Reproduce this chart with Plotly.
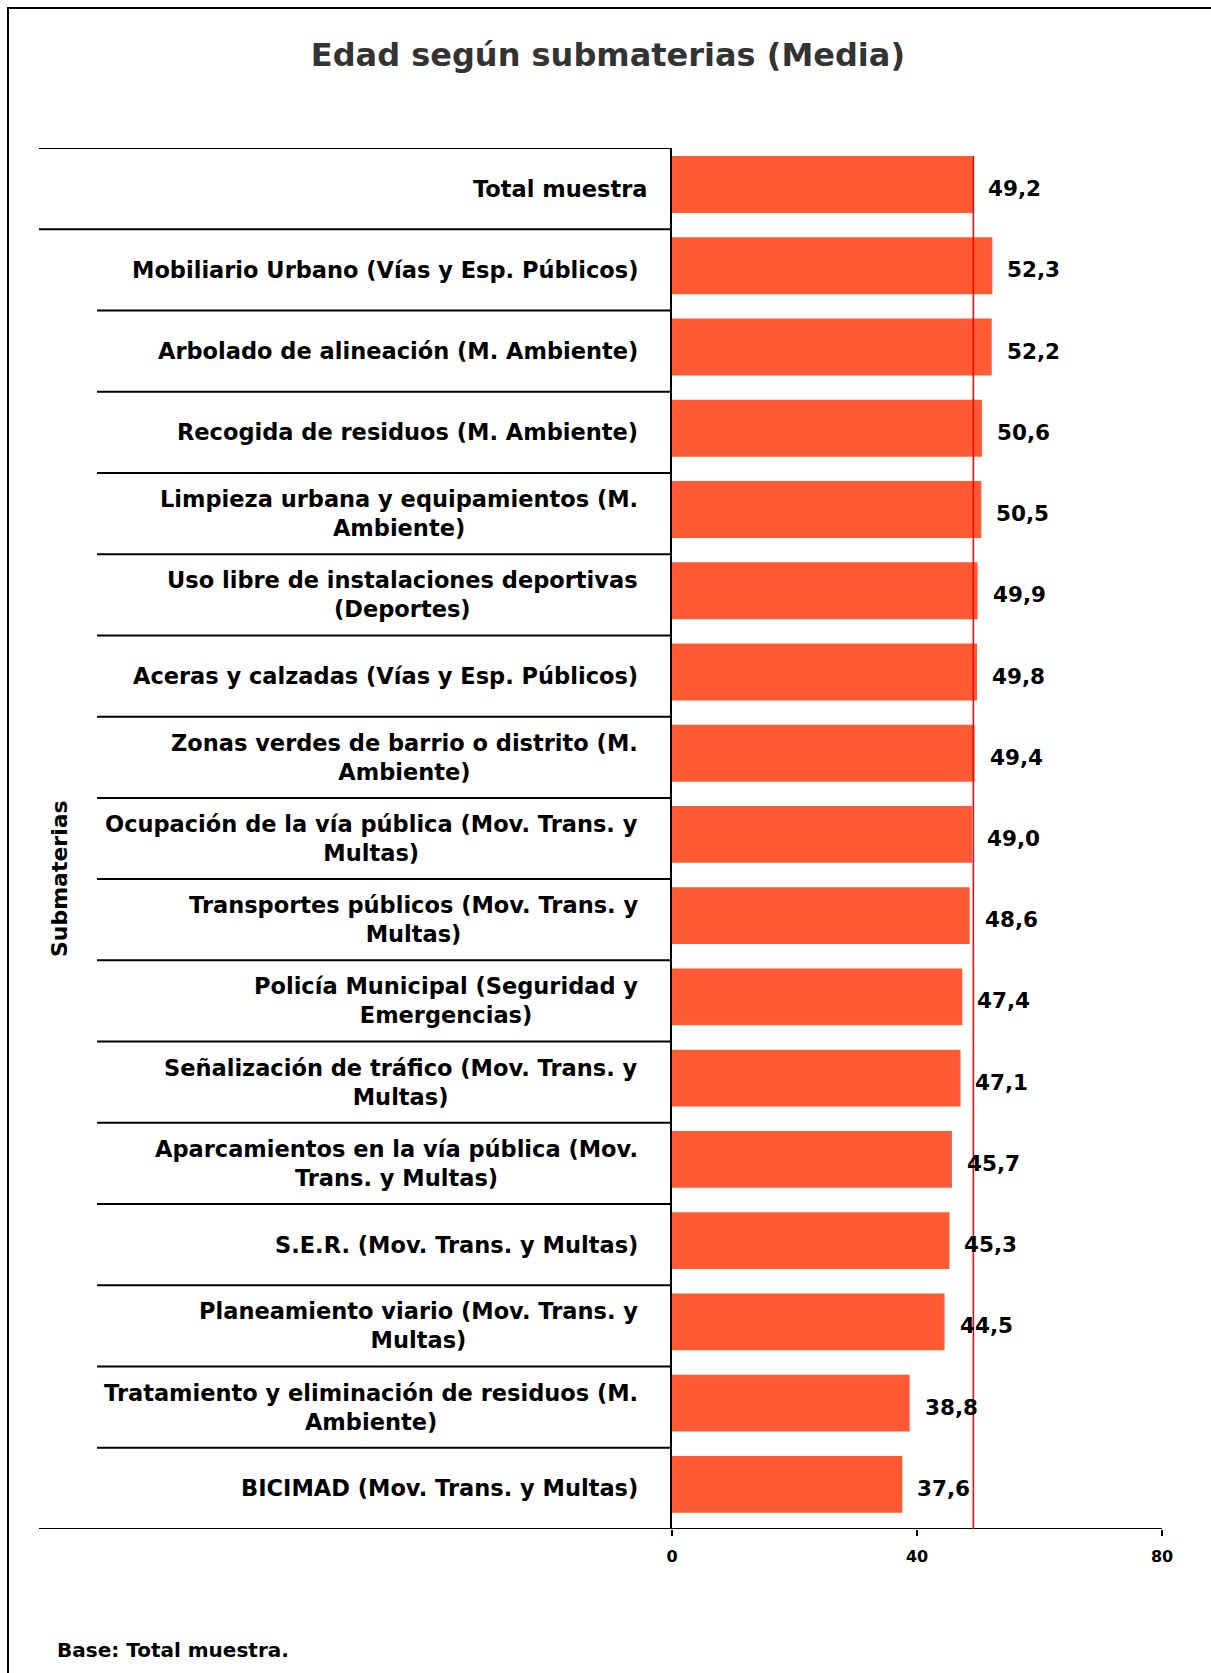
import plotly.graph_objects as go

# Mean age per sub-topic
categories = [
    "Total muestra",
    "Mobiliario Urbano (Vías y Esp. Públicos)",
    "Arbolado de alineación (M. Ambiente)",
    "Recogida de residuos (M. Ambiente)",
    "Limpieza urbana y equipamientos (M.<br>Ambiente)",
    "Uso libre de instalaciones deportivas<br>(Deportes)",
    "Aceras y calzadas (Vías y Esp. Públicos)",
    "Zonas verdes de barrio o distrito (M.<br>Ambiente)",
    "Ocupación de la vía pública (Mov. Trans. y<br>Multas)",
    "Transportes públicos (Mov. Trans. y<br>Multas)",
    "Policía Municipal (Seguridad y<br>Emergencias)",
    "Señalización de tráfico (Mov. Trans. y<br>Multas)",
    "Aparcamientos en la vía pública (Mov.<br>Trans. y Multas)",
    "S.E.R. (Mov. Trans. y Multas)",
    "Planeamiento viario (Mov. Trans. y<br>Multas)",
    "Tratamiento y eliminación de residuos (M.<br>Ambiente)",
    "BICIMAD (Mov. Trans. y Multas)",
]
values = [49.2, 52.3, 52.2, 50.6, 50.5, 49.9, 49.8, 49.4, 49.0, 48.6,
          47.4, 47.1, 45.7, 45.3, 44.5, 38.8, 37.6]
x_ticks = [0, 40, 80]
group_label = "Submaterias"

FONT = "DejaVu Sans"
BAR_COLOR = "#FF5A33"

W, H = 1211, 1673
L, R = 672, 1162      # plot area, px
T, B = 148, 1529


def px_x(p):
    return (p - L) / (R - L)


def px_y(p):
    return (B - p) / (B - T)


fig = go.Figure()
fig.add_trace(go.Bar(
    x=values, y=categories, orientation="h",
    marker=dict(color=BAR_COLOR, line=dict(width=0)),
    width=0.7, offset=-0.4, hoverinfo="skip",
))

n = len(categories)
shapes = []
annotations = []

# Category label boxes
shapes.append(dict(type="line", xref="paper", yref="y", x0=px_x(39), x1=0,
                   y0=-0.5, y1=-0.5, line=dict(color="black", width=2)))
for i in range(n - 1):
    x0 = px_x(39) if i == 0 else px_x(97)
    shapes.append(dict(type="line", xref="paper", yref="y", x0=x0, x1=0,
                       y0=i + 0.5, y1=i + 0.5, line=dict(color="black", width=2)))
# Bottom baseline across labels and plot
shapes.append(dict(type="line", xref="paper", yref="y", x0=px_x(39), x1=1,
                   y0=n - 0.5, y1=n - 0.5, line=dict(color="black", width=2)))
# Reference line at the overall mean
shapes.append(dict(type="line", xref="x", yref="y", x0=values[0], x1=values[0],
                   y0=-0.4, y1=n - 0.5, line=dict(color="#FF0000", width=1.5),
                   layer="above"))
# Outer frame
shapes.append(dict(type="rect", xref="paper", yref="paper",
                   x0=px_x(8), x1=px_x(1240), y0=px_y(1700), y1=px_y(8),
                   line=dict(color="black", width=2), fillcolor="rgba(0,0,0,0)"))

for i, (cat, v) in enumerate(zip(categories, values)):
    annotations.append(dict(
        xref="paper", yref="y", x=0, y=cat, xanchor="right", yanchor="middle",
        xshift=-23 if i == 0 else -32, text=cat, showarrow=False, align="center",
        font=dict(family=FONT, size=22.5, color="black", weight="bold"),
    ))
    annotations.append(dict(
        xref="x", yref="y", x=v, y=cat, xanchor="left", yanchor="middle",
        xshift=13, text=f"{v:.1f}".replace(".", ","), showarrow=False,
        font=dict(family=FONT, size=21.5, color="black", weight="bold"),
    ))

annotations.append(dict(
    xref="paper", yref="y", x=px_x(59), y=(1 + n - 1) / 2, text=group_label,
    textangle=-90, showarrow=False, xanchor="center", yanchor="middle",
    font=dict(family=FONT, size=22, color="black", weight="bold"),
))
annotations.append(dict(
    xref="paper", yref="paper", x=px_x(55), y=px_y(1650), xanchor="left",
    yanchor="middle", text="Base: Total muestra.", showarrow=False,
    font=dict(family=FONT, size=20, color="black", weight="bold"),
))

fig.update_layout(
    width=W, height=H,
    margin=dict(l=L, r=W - R, t=T, b=H - B, pad=0),
    paper_bgcolor="white", plot_bgcolor="white",
    showlegend=False,
    title=dict(text="Edad según submaterias (Media)", xref="container",
               x=0.502, y=1 - 55 / H, xanchor="center", yanchor="middle",
               font=dict(family=FONT, size=32, color="#333333", weight="bold")),
    xaxis=dict(range=[0, 80], tickvals=x_ticks, ticks="outside", ticklen=6,
               tickwidth=1.5, tickcolor="black", showgrid=False, zeroline=False,
               showline=False, ticklabelstandoff=7,
               tickfont=dict(family=FONT, size=16, color="black", weight="bold")),
    yaxis=dict(categoryorder="array", categoryarray=categories,
               range=[n - 0.5, -0.5], showticklabels=False, ticks="",
               showgrid=False, zeroline=False, showline=True,
               linecolor="black", linewidth=2),
    shapes=shapes, annotations=annotations,
)

fig.write_html("out.html")
